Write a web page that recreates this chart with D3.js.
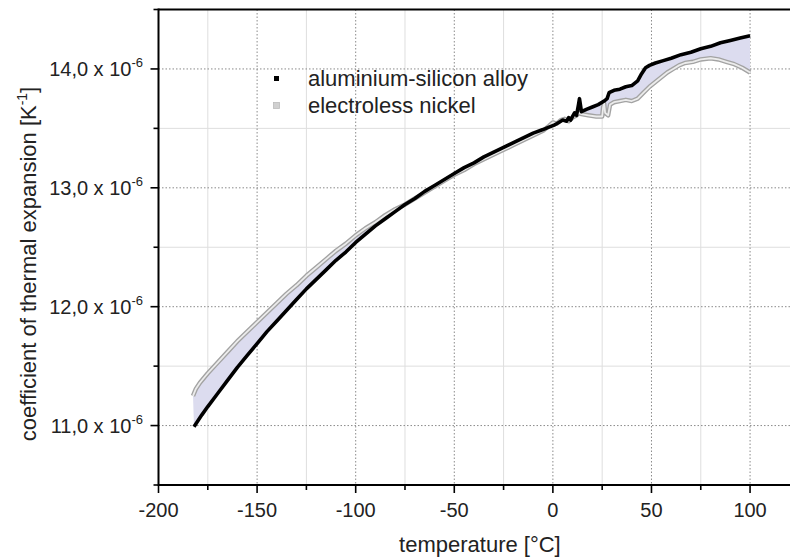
<!DOCTYPE html>
<html><head><meta charset="utf-8">
<script src="https://cdn.jsdelivr.net/npm/d3@7"></script>
<style>
html,body{margin:0;padding:0;background:#fff;}
svg{display:block;font-family:Arial,"Liberation Sans",sans-serif;}
</style></head>
<body><svg id="c" width="790" height="560"></svg>
<script>
// ---- data ----
const alloyT = [-182,-180,-178,-175,-170,-165,-160,-155,-150,-145,-140,-135,-130,-125,-120,-115,-110,-105,-100,-95,-90,-85,-80,-75,-70,-65,-60,-55,-50,-45,-40,-35,-30,-25,-20,-15,-10,-5,-2,1,3,5,7,8,9,10,11,12,13,13.5,14.5,17,20,23,26,27.5,28.5,31,34,37,40,43,45,47,49,52,56,60,65,70,75,80,85,90,95,100];
const alloyV = [10.99,11.04,11.09,11.16,11.27,11.38,11.49,11.59,11.69,11.79,11.88,11.97,12.06,12.15,12.23,12.31,12.39,12.46,12.54,12.61,12.68,12.74,12.80,12.86,12.91,12.97,13.02,13.07,13.12,13.17,13.21,13.26,13.30,13.34,13.38,13.42,13.46,13.49,13.51,13.53,13.55,13.57,13.56,13.59,13.57,13.60,13.63,13.61,13.70,13.75,13.64,13.66,13.68,13.70,13.73,13.75,13.80,13.82,13.83,13.85,13.86,13.90,13.96,14.01,14.03,14.05,14.07,14.09,14.12,14.14,14.17,14.19,14.22,14.24,14.26,14.28];
const nickelT = [-182.5,-181,-179,-175,-170,-165,-160,-155,-150,-145,-140,-135,-130,-125,-120,-115,-110,-105,-100,-95,-90,-85,-80,-75,-70,-65,-60,-55,-50,-45,-40,-35,-30,-25,-20,-15,-10,-5,-2,0,2,4,6,8,10,12,13.5,14.5,18,22,25,25.5,26,26.5,28,29,31,34,37,40,43,46,49,52,55,58,61,64,67,71,75,80,84,88,92,96,100];
const nickelV = [11.25,11.31,11.36,11.44,11.53,11.62,11.71,11.79,11.87,11.95,12.03,12.11,12.18,12.26,12.33,12.40,12.47,12.53,12.60,12.66,12.71,12.77,12.82,12.86,12.91,12.96,13.01,13.06,13.11,13.15,13.20,13.24,13.28,13.32,13.36,13.40,13.44,13.48,13.52,13.55,13.54,13.57,13.58,13.56,13.59,13.61,13.63,13.62,13.61,13.60,13.60,13.68,13.71,13.63,13.61,13.70,13.72,13.73,13.74,13.73,13.75,13.80,13.85,13.89,13.93,13.97,14.00,14.03,14.05,14.06,14.08,14.09,14.08,14.06,14.04,14.01,13.97];
const xMajor = [-200,-150,-100,-50,0,50,100];
const xMinor = [-175,-125,-75,-25,25,75];
const yMajor = [11,12,13,14];
const yMinor = [10.5,11.5,12.5,13.5,14.5];
const yTickLabels = ["11,0 x 10","12,0 x 10","13,0 x 10","14,0 x 10"];
const seriesNames = ["aluminium-silicon alloy","electroless nickel"];

// ---- layout ----
const L = 158.5, R = 789.5, T = 9.5, B = 485;
const svg = d3.select("#c");
const x = d3.scaleLinear().domain([-200,120]).range([L,R]);
const y = d3.scaleLinear().domain([10.5,14.5]).range([B,T]);

// grid
const g = svg.append("g");
g.selectAll(".vmin").data(xMinor).join("line")
  .attr("x1",d=>x(d)).attr("x2",d=>x(d)).attr("y1",T).attr("y2",B)
  .attr("stroke","#dedede").attr("stroke-width",1);
g.selectAll(".hmin").data(yMinor.filter(v=>v>10.5&&v<14.5)).join("line")
  .attr("y1",d=>y(d)).attr("y2",d=>y(d)).attr("x1",L).attr("x2",790)
  .attr("stroke","#dedede").attr("stroke-width",1);
g.selectAll(".vmaj").data(xMajor.filter(v=>v>-200)).join("line")
  .attr("x1",d=>x(d)).attr("x2",d=>x(d)).attr("y1",T).attr("y2",B)
  .attr("stroke","#8a8a8a").attr("stroke-width",1).attr("stroke-dasharray","1.5,2");
g.selectAll(".hmaj").data(yMajor).join("line")
  .attr("y1",d=>y(d)).attr("y2",d=>y(d)).attr("x1",L).attr("x2",790)
  .attr("stroke","#8a8a8a").attr("stroke-width",1).attr("stroke-dasharray","1.5,2");

// data
const A = alloyT.map((t,i)=>[t,alloyV[i]]);
const N = nickelT.map((t,i)=>[t,nickelV[i]]);
const line = d3.line().x(d=>x(d[0])).y(d=>y(d[1]));
svg.append("path").attr("d", line(A.concat(N.slice().reverse()))+"Z")
  .attr("fill","#dcdcef").attr("stroke","none");
svg.append("path").attr("d",line(N)).attr("fill","none")
  .attr("stroke","#a3a3a3").attr("stroke-width",4.5).attr("stroke-linejoin","round");
svg.append("path").attr("d",line(N)).attr("fill","none")
  .attr("stroke","#ececec").attr("stroke-width",1.8).attr("stroke-linejoin","round");
svg.append("path").attr("d",line(A)).attr("fill","none")
  .attr("stroke","#000").attr("stroke-width",3.6).attr("stroke-linejoin","round");

// axes
const ax = svg.append("g");
ax.append("line").attr("x1",L).attr("x2",790).attr("y1",B).attr("y2",B).attr("stroke","#000").attr("stroke-width",2);
ax.append("line").attr("x1",L).attr("x2",790).attr("y1",T).attr("y2",T).attr("stroke","#000").attr("stroke-width",2);
ax.append("line").attr("x1",L).attr("x2",L).attr("y1",T-1).attr("y2",B+1).attr("stroke","#000").attr("stroke-width",2);
ax.selectAll(".xt").data(xMajor).join("line").attr("x1",d=>x(d)).attr("x2",d=>x(d)).attr("y1",B).attr("y2",B+8).attr("stroke","#000").attr("stroke-width",1.6);
ax.selectAll(".xm").data(xMinor).join("line").attr("x1",d=>x(d)).attr("x2",d=>x(d)).attr("y1",B).attr("y2",B+5).attr("stroke","#000").attr("stroke-width",1.6);
ax.selectAll(".yt").data(yMajor).join("line").attr("y1",d=>y(d)).attr("y2",d=>y(d)).attr("x1",L-8).attr("x2",L).attr("stroke","#000").attr("stroke-width",1.6);
ax.selectAll(".ym").data(yMinor).join("line").attr("y1",d=>y(d)).attr("y2",d=>y(d)).attr("x1",L-5).attr("x2",L).attr("stroke","#000").attr("stroke-width",1.6);

ax.selectAll(".xl").data(xMajor).join("text")
  .attr("x",d=>x(d)).attr("y",B+32).attr("text-anchor","middle")
  .attr("font-size",20).attr("fill","#222").text(d=>d);
const yl = ax.selectAll(".yl").data(yMajor).join("text")
  .attr("x",143).attr("y",d=>y(d)+7).attr("text-anchor","end")
  .attr("font-size",20).attr("fill","#222");
yl.append("tspan").text((d,i)=>yTickLabels[i]);
yl.append("tspan").attr("dy",-9).attr("font-size",13).text("-6");

// titles
svg.append("text").attr("x",x(-37)).attr("y",552).attr("text-anchor","middle")
  .attr("font-size",22).attr("fill","#222").text("temperature [°C]");
const yt = svg.append("text").attr("transform","translate(36,264) rotate(-90)")
  .attr("text-anchor","middle").attr("font-size",22).attr("fill","#222");
yt.append("tspan").text("coefficient of thermal expansion [K");
yt.append("tspan").attr("dy",-9).attr("font-size",14).text("-1");
yt.append("tspan").attr("dy",9).text("]");

// legend
const lg = svg.append("g");
lg.append("rect").attr("x",274).attr("y",76).attr("width",5).attr("height",5).attr("fill","#000");
lg.append("rect").attr("x",273.5).attr("y",102.5).attr("width",6).attr("height",6).attr("fill","#d0d0d0").attr("stroke","#bbb").attr("stroke-width",0.8);
lg.append("text").attr("x",308).attr("y",86).attr("font-size",22).attr("fill","#222").text(seriesNames[0]);
lg.append("text").attr("x",308).attr("y",113).attr("font-size",22).attr("fill","#222").text(seriesNames[1]);
</script></body></html>
